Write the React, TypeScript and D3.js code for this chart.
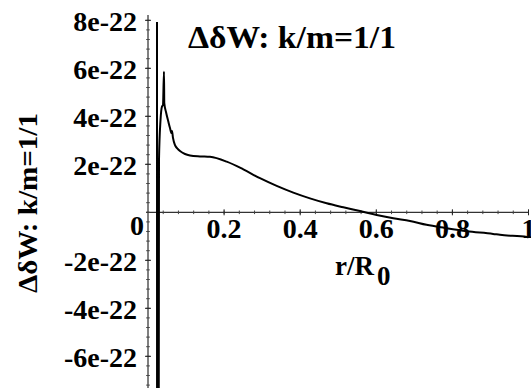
import React from "react";
import * as d3 from "d3";

// r/R0 values and ΔδW values (units of 1e-22)
const rValues = [
  0.02365, 0.0240, 0.0268, 0.0289, 0.0329, 0.0368, 0.0394, 0.0420, 0.0428,
  0.0473, 0.0534, 0.0578, 0.0618, 0.0631, 0.0657, 0.0710, 0.0775, 0.0841,
  0.0972, 0.1104, 0.1367, 0.1629, 0.2068, 0.2505, 0.2943, 0.3382, 0.3819,
  0.4257, 0.4696, 0.5133, 0.5572, 0.6010, 0.6447, 0.6886, 0.7320, 0.7800,
  0.8380, 0.9070, 0.9250, 0.9960, 1.0,
];
const dWValues = [
  7.93, -30, -30, 2.18, 3.85, 4.41, 4.47, 5.86, 4.55,
  4.18, 3.78, 3.51, 3.30, 3.39, 3.10, 2.80, 2.65, 2.55,
  2.43, 2.37, 2.33, 2.31, 2.11, 1.79, 1.42, 1.10, 0.82,
  0.58, 0.375, 0.21, 0.054, -0.11, -0.25, -0.36, -0.52, -0.65,
  -0.79, -0.90, -0.94, -1.03, -1.04,
];

const xMajorTicks = [0.2, 0.4, 0.6, 0.8, 1];
const xTickLabels = ["0.2", "0.4", "0.6", "0.8", "1"];
const yMajorTicks = [-6, -4, -2, 2, 4, 6, 8];
const yTickLabels = ["-6e-22", "-4e-22", "-2e-22", "2e-22", "4e-22", "6e-22", "8e-22"];
const titleText = "ΔδW: k/m=1/1";
const xLabelMain = "r/R";
const xLabelSub = "0";

const W = 531;
const H = 388;
const FONT = '"Liberation Serif", "DejaVu Serif", serif';

export default function App() {
  const x = d3.scaleLinear().domain([0, 1]).range([148, 528.5]);
  const y = d3.scaleLinear().domain([-6, 8]).range([356.3, 20.3]);
  const yTop = 15;
  const yBottom = H;

  const xMinor = d3.range(0, 1.0001, 0.04).filter((t) => t > 0.001);
  const yMinor = d3
    .range(-7.2, 8.0001, 0.4)
    .filter((t) => y(t) >= yTop && y(t) <= yBottom);

  const data = rValues.map((r, i) => [r, dWValues[i]] as [number, number]);
  const line = d3
    .line<[number, number]>()
    .x((d) => x(d[0]))
    .y((d) => y(d[1]))
    .curve(d3.curveMonotoneX);

  const x0 = x(0);
  const y0 = y(0);
  const ts = { fontFamily: FONT, fontWeight: 700 } as React.CSSProperties;

  return (
    <svg
      width={W}
      height={H}
      style={{ position: "absolute", left: 0, top: 0, background: "#fff" }}
    >
      <defs>
        <clipPath id="plotclip">
          <rect x={0} y={yTop} width={W} height={yBottom - yTop} />
        </clipPath>
      </defs>
      <rect width={W} height={H} fill="#fff" />

      {/* axes */}
      <line x1={x0 - 2} x2={x(1)} y1={y0} y2={y0} stroke="#000" strokeWidth={1} />
      <line x1={x0} x2={x0} y1={yTop} y2={yBottom} stroke="#000" strokeWidth={1} />

      {/* x ticks */}
      {xMinor.map((t, i) => (
        <line key={"xm" + i} x1={x(t)} x2={x(t)} y1={y0 - 1.8} y2={y0 + 1.8} stroke="#444" strokeWidth={1} />
      ))}
      {xMajorTicks.map((t, i) => (
        <line key={"xM" + i} x1={x(t)} x2={x(t)} y1={y0 - 3} y2={y0 + 3} stroke="#222" strokeWidth={1} />
      ))}
      {/* y ticks */}
      {yMinor.map((t, i) => (
        <line key={"ym" + i} x1={x0 - 1.8} x2={x0 + 1.8} y1={y(t)} y2={y(t)} stroke="#444" strokeWidth={1} />
      ))}
      {yMajorTicks.map((t, i) => (
        <line key={"yM" + i} x1={x0 - 3} x2={x0 + 3} y1={y(t)} y2={y(t)} stroke="#222" strokeWidth={1} />
      ))}

      {/* curve */}
      <path
        d={line(data) || ""}
        fill="none"
        stroke="#000"
        strokeWidth={2}
        strokeLinejoin="round"
        clipPath="url(#plotclip)"
      />

      {/* tick labels */}
      {xMajorTicks.map((t, i) => (
        <text key={"xl" + i} x={x(t)} y={238} textAnchor="middle" fontSize={28} style={ts}>
          {xTickLabels[i]}
        </text>
      ))}
      <text x={144} y={235} textAnchor="end" fontSize={28} style={ts}>0</text>
      {yMajorTicks.map((t, i) => (
        <text key={"yl" + i} x={137} y={y(t) + 10.5} textAnchor="end" fontSize={28} style={ts}>
          {yTickLabels[i]}
        </text>
      ))}

      {/* title */}
      <text x={188} y={48} fontSize={31} style={ts} textLength={208} lengthAdjust="spacingAndGlyphs">
        {titleText}
      </text>

      {/* y label */}
      <text
        transform={`translate(37, 203) rotate(-90)`}
        textAnchor="middle"
        fontSize={27}
        style={ts}
        textLength={180}
        lengthAdjust="spacingAndGlyphs"
      >
        {titleText}
      </text>

      {/* x label */}
      <text x={335} y={275} fontSize={27} style={ts}>
        {xLabelMain}
        <tspan dx={3} dy={10}>{xLabelSub}</tspan>
      </text>
    </svg>
  );
}
